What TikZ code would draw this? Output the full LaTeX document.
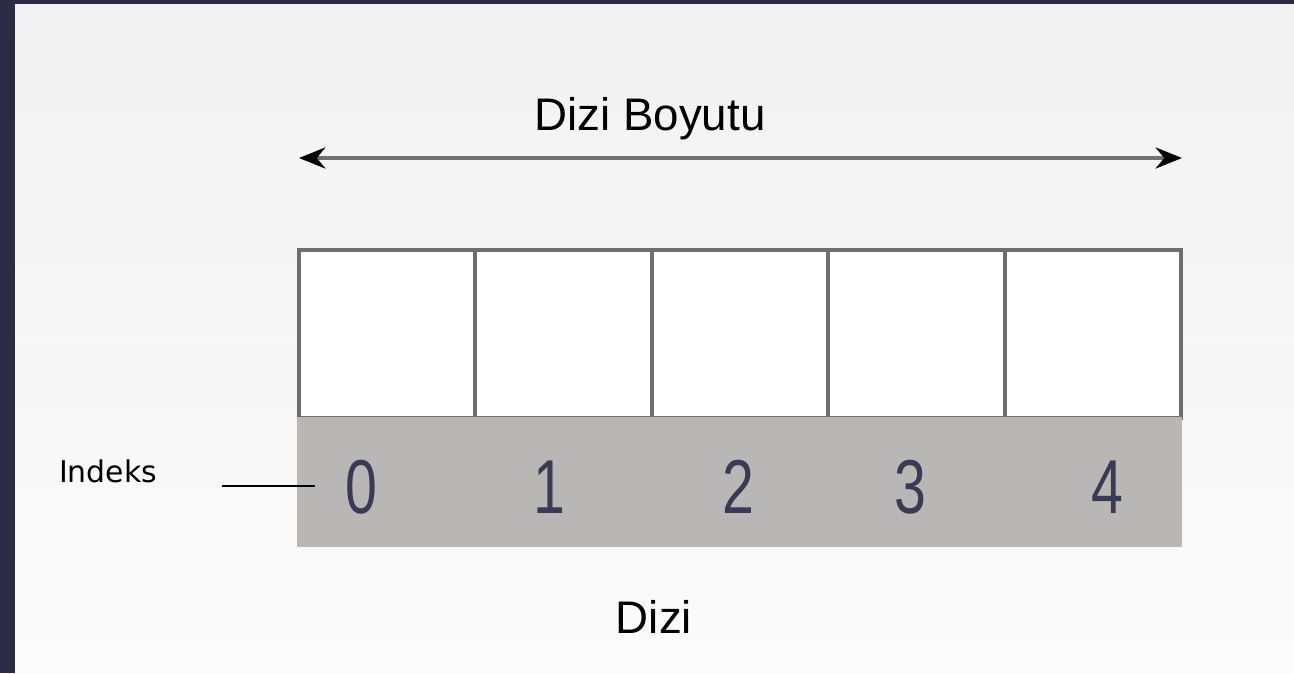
\documentclass[tikz,border=0pt]{standalone}
\usepackage{fontspec}
\setmainfont{Liberation Sans}
\newfontfamily\smallfont{DejaVu Sans}
\usetikzlibrary{arrows.meta}
\definecolor{frame}{HTML}{2B2B45}
\definecolor{bgtop}{HTML}{F2F2F2}
\definecolor{bgbot}{HTML}{FBFBFB}
\definecolor{cellline}{HTML}{6E6E6E}
\definecolor{band}{HTML}{B9B6B6}
\definecolor{digit}{HTML}{3B3A55}
\definecolor{arrowline}{HTML}{707070}

\begin{document}
\begin{tikzpicture}[x=0.02cm,y=-0.02cm]
  \tikzstyle{cell}=[draw=cellline,line width=2.3pt,fill=white,
  minimum width=3.528cm,minimum height=3.36cm,inner sep=0pt,outer sep=0pt]
  \tikzstyle{idx}=[text=digit,inner sep=0pt,anchor=base,
  font=\fontsize{43.5}{44}\selectfont]
  \tikzstyle{title}=[inner sep=0pt,anchor=base,font=\fontsize{26}{28}\selectfont]
  % frame and background
  \fill[frame] (0,0) rectangle (1294,673);
  \shade[top color=bgtop,bottom color=bgbot] (15,4) rectangle (1294,673);
  \useasboundingbox (0,0) rectangle (1294,673);
  % array cells
  \node[cell](c0) at (387.2,334){};
  \node[cell](c1) at (563.6,334){};
  \node[cell](c2) at (740,334){};
  \node[cell](c3) at (916.4,334){};
  \node[cell](c4) at (1092.8,334){};
  \node[fill=band,minimum width=17.7cm,minimum height=2.6cm,inner sep=0pt](band) at (739.5,482){};
  % indices
  \node[idx](i0) at (361,513){\scalebox{0.75}[1]{0}};
  \node[idx](i1) at (549,513){\scalebox{0.75}[1]{1}};
  \node[idx](i2) at (738,513){\scalebox{0.75}[1]{2}};
  \node[idx](i3) at (910,513){\scalebox{0.75}[1]{3}};
  \node[idx](i4) at (1107,513){\scalebox{0.75}[1]{4}};
  % labels
  \node[title](size) at (650,130){Dizi Boyutu};
  \node[title](arr) at (654,633){Dizi};
  \node[inner sep=0pt,anchor=base,font=\smallfont\fontsize{17}{18}\selectfont](lbl) at (108,482){Indeks};
  % size arrow and index pointer
  \coordinate (sl) at (299,158);
  \coordinate (sr) at (1182,158);
  \path[draw,arrowline,line width=2.2pt,
  {Stealth[length=15pt,width=12pt,color=black]}-{Stealth[length=15pt,width=12pt,color=black]}] (sl) -- (sr);
  \coordinate (pa) at (222,486);
  \coordinate (pb) at (315,486);
  \path[draw,black,line width=1.2pt] (pa) -- (pb);
\end{tikzpicture}
\end{document}
